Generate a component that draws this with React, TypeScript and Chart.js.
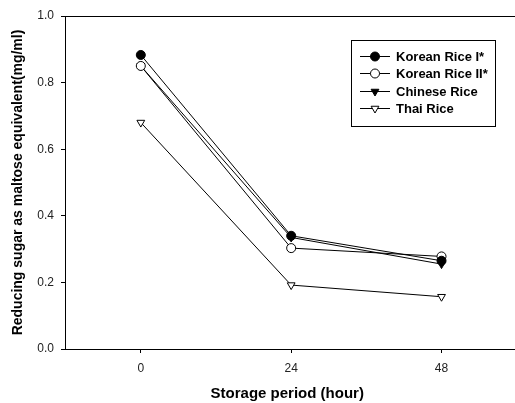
import React, { useEffect, useRef } from "react";
import { Chart, registerables } from "chart.js";
import { drawPoint } from "chart.js/helpers";

Chart.register(...registerables);

const hours = [0, 24, 48];
const xTicks = [0, 24, 48];
const seriesNames = ["Korean Rice I*", "Korean Rice II*", "Chinese Rice", "Thai Rice"];
const koreanRiceI = [0.883, 0.34, 0.265];
const koreanRiceII = [0.85, 0.303, 0.278];
const chineseRice = [0.85, 0.335, 0.255];
const thaiRice = [0.68, 0.192, 0.157];

const FONT = "'Liberation Sans', Arial, sans-serif";

const frameAndLegend = {
  id: "frameAndLegend",
  afterDraw(chart: any) {
    const { ctx, chartArea } = chart;
    ctx.save();
    ctx.strokeStyle = "#000";
    ctx.lineWidth = 1;
    ctx.beginPath();
    ctx.moveTo(chartArea.left - 3, Math.round(chartArea.top) + 0.5);
    ctx.lineTo(chart.width, Math.round(chartArea.top) + 0.5);
    ctx.moveTo(chartArea.left - 3, Math.round(chartArea.bottom) + 0.5);
    ctx.lineTo(chart.width, Math.round(chartArea.bottom) + 0.5);
    ctx.stroke();

    // legend box
    const bx = 351.5, by = 40.5, bw = 144, bh = 86;
    ctx.strokeRect(bx, by, bw, bh);
    const rows = [56, 73, 91, 108];
    chart.data.datasets.forEach((ds: any, i: number) => {
      const y = rows[i];
      ctx.strokeStyle = "#000";
      ctx.lineWidth = 1;
      ctx.beginPath();
      ctx.moveTo(360, y + 0.5);
      ctx.lineTo(390, y + 0.5);
      ctx.stroke();
      ctx.fillStyle = ds.pointBackgroundColor;
      ctx.strokeStyle = "#000";
      drawPoint(ctx, {
        pointStyle: ds.pointStyle,
        radius: 4.5,
        rotation: ds.pointRotation || 0,
        borderWidth: 1,
      } as any, 375, y + 0.5);
      ctx.fillStyle = "#000";
      ctx.font = `bold 13px ${FONT}`;
      ctx.textAlign = "left";
      ctx.textBaseline = "middle";
      ctx.fillText(ds.label, 396, y + 1);
    });
    ctx.restore();
  },
};

export default function App() {
  const ref = useRef<HTMLCanvasElement | null>(null);
  useEffect(() => {
    const mk = (vals: number[]) => hours.map((h, i) => ({ x: h, y: vals[i] }));
    const base = {
      borderColor: "#000",
      borderWidth: 1,
      pointBorderColor: "#000",
      pointBorderWidth: 1,
      pointRadius: 4.5,
      tension: 0,
    };
    const chart = new Chart(ref.current as HTMLCanvasElement, {
      type: "line",
      data: {
        datasets: [
          { ...base, label: seriesNames[0], data: mk(koreanRiceI), pointStyle: "circle", pointBackgroundColor: "#000" },
          { ...base, label: seriesNames[1], data: mk(koreanRiceII), pointStyle: "circle", pointBackgroundColor: "#fff" },
          { ...base, label: seriesNames[2], data: mk(chineseRice), pointStyle: "triangle", pointRotation: 180, pointBackgroundColor: "#000" },
          { ...base, label: seriesNames[3], data: mk(thaiRice), pointStyle: "triangle", pointRotation: 180, pointBackgroundColor: "#fff" },
        ] as any,
      },
      options: {
        animation: false,
        responsive: false,
        maintainAspectRatio: false,
        layout: { padding: { top: 16, right: 0, left: 0, bottom: 0 } },
        plugins: { legend: { display: false }, tooltip: { enabled: false } },
        scales: {
          x: {
            type: "linear",
            min: -12.1,
            max: 58.85,
            afterBuildTicks: (s: any) => { s.ticks = xTicks.map((v) => ({ value: v })); },
            afterFit: (s: any) => { s.height = 54; s.paddingLeft = 0; s.paddingRight = 0; },
            grid: { drawOnChartArea: false, drawTicks: true, tickLength: 4, color: "#000" },
            border: { display: true, color: "#000", width: 1 },
            ticks: { color: "#222", font: { family: FONT, size: 12 }, padding: 8, maxRotation: 0, callback: (v: any) => String(v) },
            title: { display: true, text: "Storage period (hour)", color: "#000", font: { family: FONT, size: 15, weight: "bold" }, padding: { top: 5, bottom: 0 } },
          },
          y: {
            type: "linear",
            min: 0,
            max: 1,
            afterFit: (s: any) => { s.width = 65; s.paddingTop = 0; s.paddingBottom = 0; },
            grid: { drawOnChartArea: false, drawTicks: true, tickLength: 4, color: "#000" },
            border: { display: true, color: "#000", width: 1 },
            ticks: { stepSize: 0.2, color: "#222", font: { family: FONT, size: 12 }, padding: 7, callback: (v: any) => Number(v).toFixed(1) },
            title: { display: true, text: "Reducing sugar as maltose equivalent(mg/ml)", color: "#000", font: { family: FONT, size: 14, weight: "bold" }, padding: { top: 10, bottom: 0 } },
          },
        },
      } as any,
      plugins: [frameAndLegend],
    });
    return () => chart.destroy();
  }, []);
  return (
    <div style={{ position: "fixed", left: 0, top: 0, width: 515, height: 403, background: "#fff" }}>
      <canvas ref={ref} width={515} height={403} style={{ width: 515, height: 403, display: "block" }} />
    </div>
  );
}
